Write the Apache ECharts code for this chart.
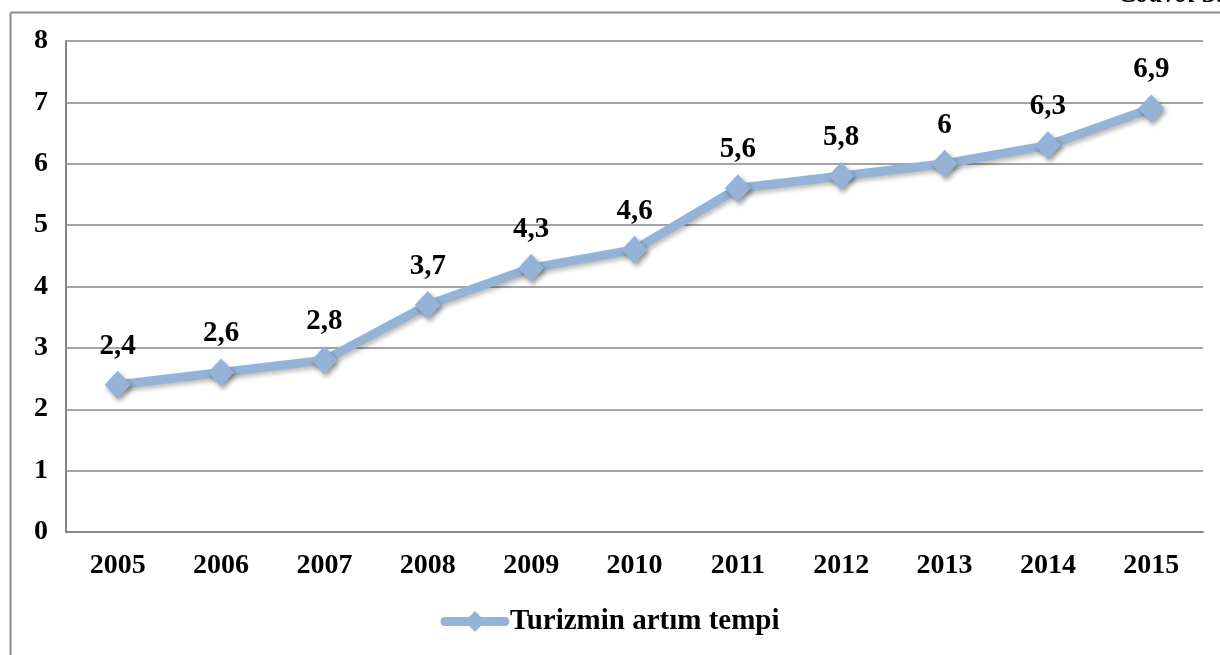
<!DOCTYPE html>
<html><head><meta charset="utf-8">
<script src="https://cdn.jsdelivr.net/npm/echarts@6/dist/echarts.min.js"></script>
<style>html,body{margin:0;padding:0;background:#fff}#c{width:1220px;height:655px}</style>
</head><body><div id="c"></div>
<script>
const categories = ['2005','2006','2007','2008','2009','2010','2011','2012','2013','2014','2015'];
const values = [2.4, 2.6, 2.8, 3.7, 4.3, 4.6, 5.6, 5.8, 6, 6.3, 6.9];
const seriesName = 'Turizmin artım tempi';
const yTicks = [0,1,2,3,4,5,6,7,8];
const corner = 'Cədvəl 3.';

const font = '"Liberation Serif","Times New Roman",serif';
const chart = echarts.init(document.getElementById('c'));
chart.setOption({
  animation: false,
  backgroundColor: '#fff',
  grid: {left: 66, right: 17, top: 41, bottom: 123},
  graphic: [
    {type:'line', shape:{x1:10.5,y1:12.5,x2:1220,y2:12.5}, style:{stroke:'#8c8c8c',lineWidth:2}},
    {type:'line', shape:{x1:10.5,y1:12.5,x2:10.5,y2:655}, style:{stroke:'#8c8c8c',lineWidth:2}},
    {type:'text', right: -4, top: -19, z: 10, style:{text: corner, font:'italic bold 28px '+font, fill:'#000'}}
  ],
  xAxis: {
    type:'category', data: categories, boundaryGap: true,
    axisLine:{show:true, lineStyle:{color:'#868686', width:2}},
    axisTick:{show:false},
    axisLabel:{color:'#000', fontFamily:font, fontWeight:'bold', fontSize:28, margin:20}
  },
  yAxis: {
    type:'value', min: yTicks[0], max: yTicks[yTicks.length-1], interval: 1,
    axisLine:{show:true, lineStyle:{color:'#868686', width:2}},
    axisTick:{show:false},
    splitLine:{show:true, lineStyle:{color:'#868686', width:1.5}},
    axisLabel:{color:'#000', fontFamily:font, fontWeight:'bold', fontSize:28, margin:18,
      formatter: v => String(v)}
  },
  legend: {
    bottom: 14, left: 'center',
    itemWidth: 60, itemHeight: 26, itemGap: 4,
    lineStyle:{width: 9, cap:'round'},
    textStyle:{color:'#000', fontFamily:font, fontWeight:'bold', fontSize:29},
    data:[seriesName]
  },
  series: [{
    name: seriesName, type:'line', data: values,
    symbol:'diamond', symbolSize: [26, 28],
    lineStyle:{color:'#95b3d7', width:9, shadowColor:'rgba(0,0,0,0.25)', shadowBlur:4, shadowOffsetX:2, shadowOffsetY:3},
    itemStyle:{color:'#95b3d7', shadowColor:'rgba(0,0,0,0.4)', shadowBlur:5, shadowOffsetX:2, shadowOffsetY:3},
    label:{show:true, position:'top', distance: 10, color:'#000', fontFamily:font, fontWeight:'bold', fontSize:29,
      formatter: p => String(p.value).replace('.', ',')}
  }]
});
</script></body></html>
